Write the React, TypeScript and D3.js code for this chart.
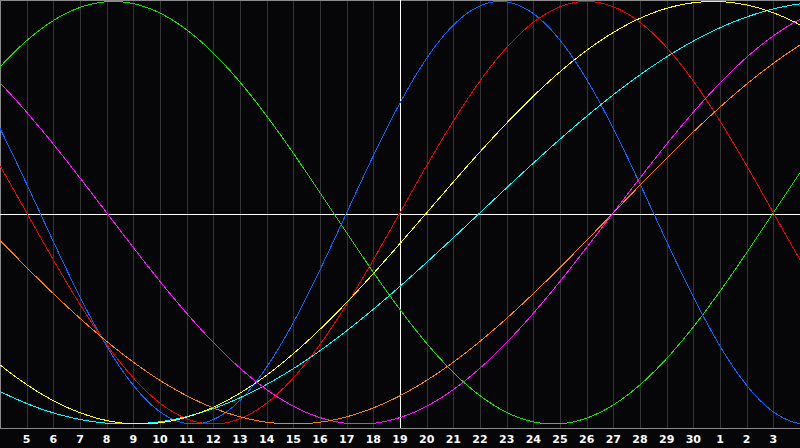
import React from 'react';
import * as d3 from 'd3';

// days shown under the grid lines (grid line 1 .. 29)
const dayLabels = [
  '5', '6', '7', '8', '9', '10', '11', '12', '13', '14', '15', '16', '17', '18', '19',
  '20', '21', '22', '23', '24', '25', '26', '27', '28', '29', '30', '1', '2', '3',
];
const todayIndex = 15; // the white vertical line ("19")

// cycles: period in days, day of the upward zero crossing
const cycleNames = ['Physical', 'Emotional', 'Intellectual', 'Intuitive', 'Aesthetic', 'Awareness', 'Spiritual'];
const cyclePeriods = [23, 28, 33, 38, 43, 48, 53];
const cycleZeroDays = [13, 15, -4, 23, 16, 23, 18];
const cycleColors = ['#0a64ff', '#f00000', '#16e000', '#ff10ff', '#ffff00', '#ff8000', '#00ffff'];
const drawOrder = [2, 0, 1, 6, 4, 3, 5];

const W = 800;
const H = 448;
const plotBottom = 428;
const spanDays = 30;

export default function App() {
  const x = d3.scaleLinear().domain([0, spanDays]).range([0, W]);
  const y = d3.scaleLinear().domain([-1, 1]).range([424, 1.5]);
  const samples = d3.range(0, spanDays + 0.05, 0.05);

  const line = d3.line<number>()
    .x(d => x(d))
    .y(d => y(d));

  const paths = drawOrder.map(i => {
    const P = cyclePeriods[i];
    const z = cycleZeroDays[i];
    const pts: [number, number][] = samples.map(d => [x(d), y(Math.sin((2 * Math.PI * (d - z)) / P))]);
    return { i, d: d3.line()(pts) as string };
  });

  const px = (v: number) => Math.round(v) + 0.5;

  return (
    <svg
      width={W}
      height={H}
      style={{ position: 'absolute', left: 0, top: 0, display: 'block', background: '#060609' }}
    >
      <rect x={0} y={0} width={W} height={H} fill="#060609" />
      {/* day grid */}
      {d3.range(1, spanDays).map(k => (
        <line key={k} x1={px(x(k))} x2={px(x(k))} y1={0} y2={plotBottom} stroke="#333336" strokeWidth={1} />
      ))}
      {/* frame */}
      <line x1={0} x2={W} y1={0.5} y2={0.5} stroke="#8a8a8a" />
      <line x1={0.5} x2={0.5} y1={0} y2={plotBottom} stroke="#8a8a8a" />
      <line x1={0} x2={W} y1={plotBottom + 0.5} y2={plotBottom + 0.5} stroke="#8a8a8a" />
      {/* zero line and today */}
      <line x1={0} x2={W} y1={px(y(0)) + 1} y2={px(y(0)) + 1} stroke="#ffffff" />
      <line x1={px(x(todayIndex))} x2={px(x(todayIndex))} y1={0} y2={plotBottom} stroke="#ffffff" />
      {paths.map(p => (
        <path
          key={p.i}
          d={p.d}
          fill="none"
          stroke={cycleColors[p.i]}
          strokeWidth={1}
          shapeRendering="crispEdges"
        >
          <title>{cycleNames[p.i]}</title>
        </path>
      ))}
      {dayLabels.map((t, i) => (
        <text
          key={i}
          x={x(i + 1)}
          y={443}
          fill="#ffffff"
          fontFamily="DejaVu Sans, sans-serif"
          fontWeight="bold"
          fontSize={11}
          textAnchor="middle"
        >
          {t}
        </text>
      ))}
    </svg>
  );
}
